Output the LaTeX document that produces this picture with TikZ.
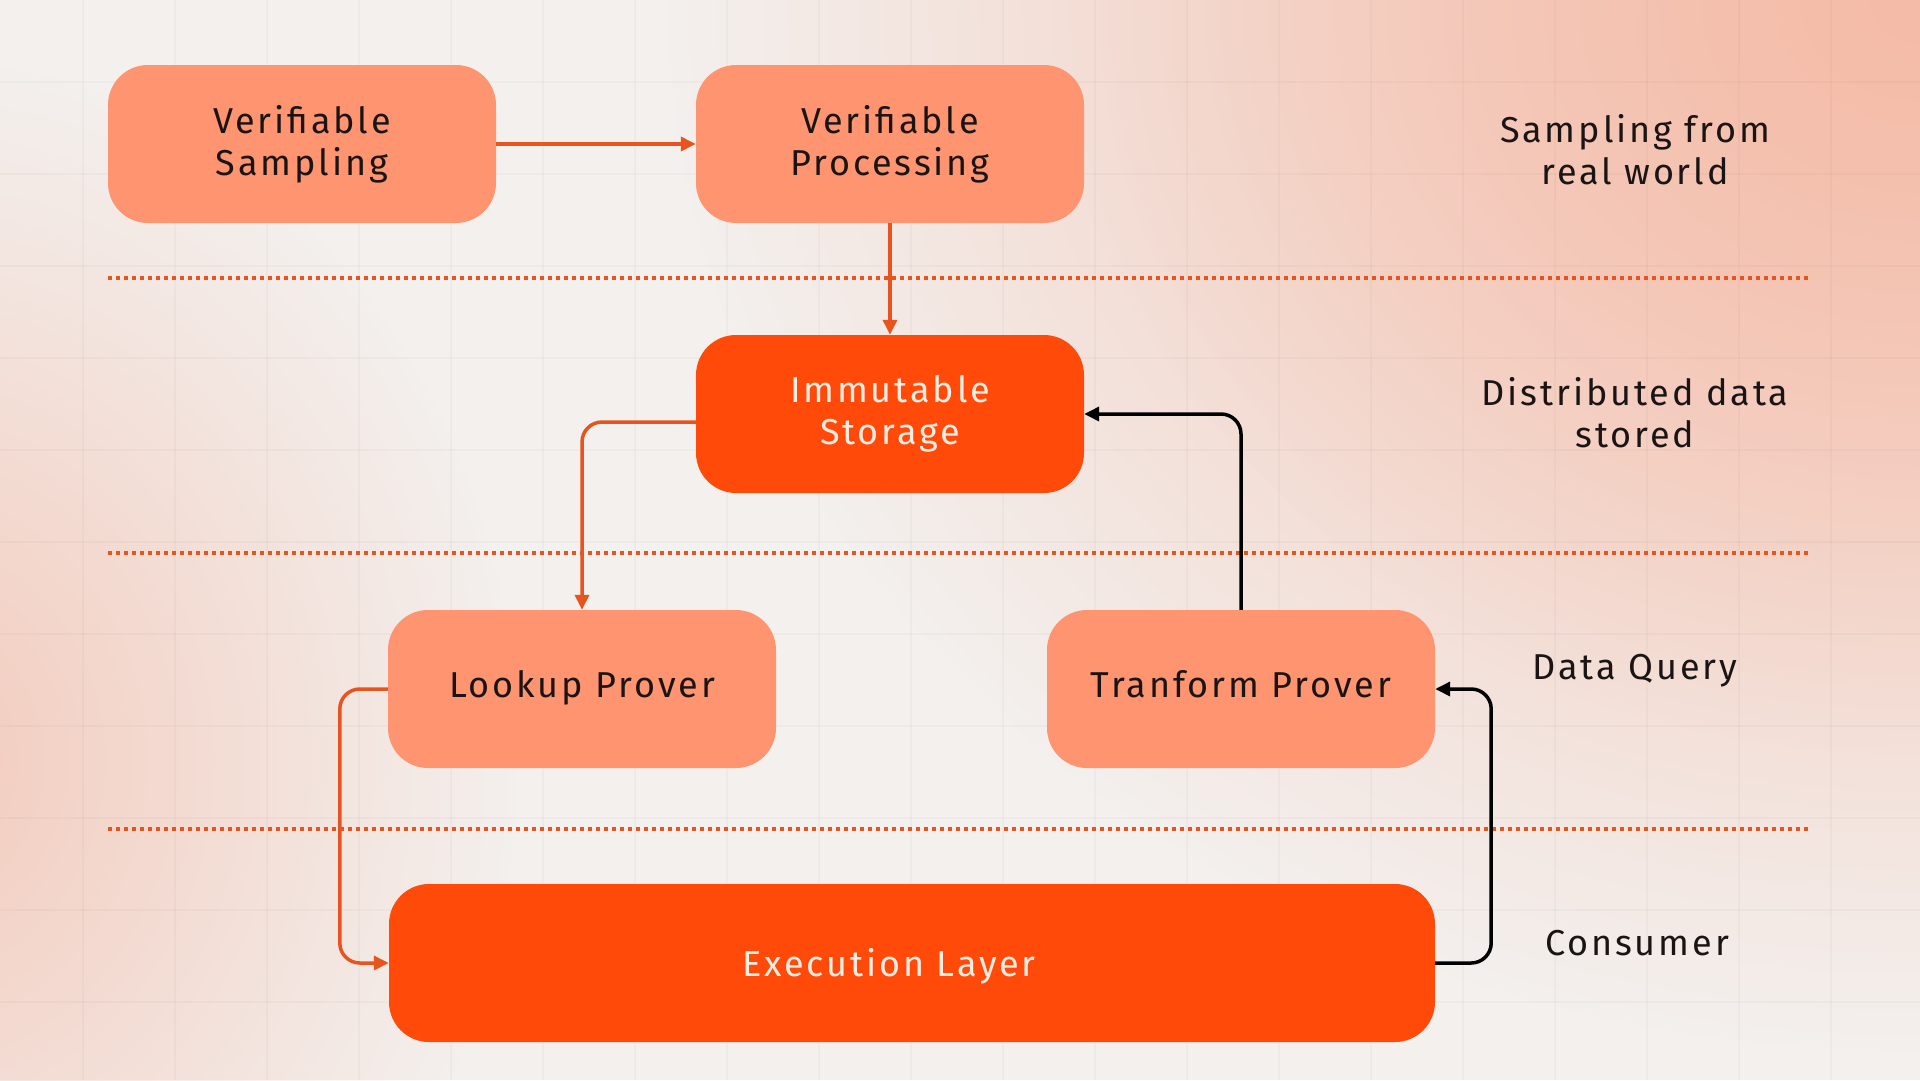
\documentclass[tikz,border=0pt]{standalone}
\usepackage{fontspec}
\setmainfont{Fira Sans}[LetterSpace=8]
\usetikzlibrary{arrows.meta,fadings}
\tikzfading[name=myfade, inner color=transparent!0, outer color=transparent!100]
\definecolor{bgbase}{HTML}{F3F0EE}
\definecolor{bgpink}{HTML}{F5BCA8}
\definecolor{bgpinkl}{HTML}{F4CBBD}
\definecolor{lightbox}{HTML}{FF9470}
\definecolor{darkbox}{HTML}{FF4A0A}
\definecolor{lineor}{HTML}{E8541E}
\definecolor{darktext}{HTML}{1A1414}
\definecolor{lighttext}{HTML}{FFEDE3}
\newcommand\labfont{\fontsize{36}{42}\selectfont}
\tikzset{
  lbox/.style={rectangle, rounded corners=40pt, fill=lightbox, text=darktext,
    minimum width=388pt, minimum height=158pt, align=center, font=\labfont, inner sep=0pt},
  dbox/.style={lbox, fill=darkbox, text=lighttext},
  side/.style={align=center, text=darktext, font=\labfont, inner sep=0pt},
  conn/.style={line width=3.5pt, draw=lineor, rounded corners=20pt, -{Triangle[length=15pt,width=14pt]}},
  bconn/.style={conn, draw=black},
  sep/.style={draw=lineor, line width=3.5pt, dash pattern=on 3.5pt off 4.5pt},
  gridline/.style={draw=black, opacity=0.025, line width=1.5pt},
}
\begin{document}
\begin{tikzpicture}[x=1pt,y=-1pt]
\useasboundingbox (0,0) rectangle (1920,1080);
\clip (0,0) rectangle (1920,1080);
% background
\fill[bgbase] (0,0) rectangle (1920,1080);
\fill[bgpink, path fading=myfade] (1920,0) ellipse [x radius=1250, y radius=1050];
\fill[bgpink, opacity=0.6, path fading=myfade] (1920,0) ellipse [x radius=850, y radius=750];
\fill[bgpinkl, path fading=myfade] (-80,760) ellipse [x radius=600, y radius=700];
\foreach \x in {83,175,...,1920} \draw[gridline] (\x,0) -- (\x,1080);
\foreach \y in {82,174,...,1080} \draw[gridline] (0,\y) -- (1920,\y);
% separators
\draw[sep] (108,278) -- (1809,278);
\draw[sep] (108,553) -- (1809,553);
\draw[sep] (108,829) -- (1809,829);
% boxes
\node[lbox] (vs) at (302,144) {Verifiable\\Sampling};
\node[lbox] (vp) at (890,144) {Verifiable\\Processing};
\node[dbox] (is) at (890,414) {Immutable\\Storage};
\node[lbox] (lp) at (582,689) {Lookup Prover\strut};
\node[lbox] (tp) at (1241,689) {Tranform Prover\strut};
\node[dbox, minimum width=1046pt, label={[side, text=lighttext, xshift=-23pt, yshift=-5pt]center:Execution Layer\strut}] (el) at (912,963) {};
% side labels
\node[side] (l1) at (1635,150) {Sampling from\\real world};
\node[side] (l2) at (1635,413) {Distributed data\\stored};
\node[side] (l3) at (1635,671) {Data Query};
\node[side] (l4) at (1637,943) {Consumer};
% connectors
\draw[conn] (vs.east) -- (vp.west);
\draw[conn] (vp.south) -- (is.north);
\draw[conn] ([yshift=-8pt]is.west) -| (lp.north);
\draw[conn] (lp.west) -- ++(-48,0) |- (el.west);
\draw[bconn] (tp.north) |- (is.east);
\draw[bconn] (el.east) -- ++(56,0) |- (tp.east);
\end{tikzpicture}
\end{document}
